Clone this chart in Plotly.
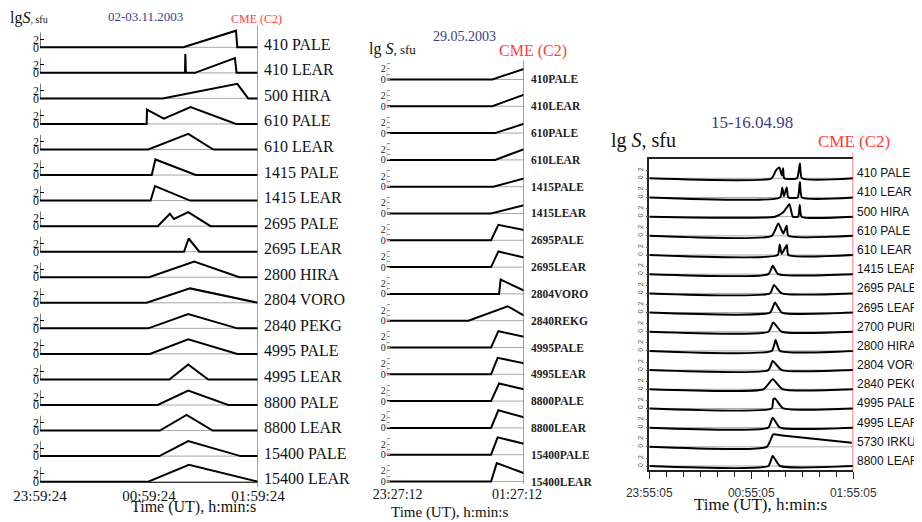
import plotly.graph_objects as go

W, H = 922, 522
PAGE_OFF = 8  # the page body margin moves the figure by 8 px
SERIF = "Liberation Serif"
SANS = "Liberation Sans"
RED = "#ff3c3c"
BLUE = "#3c3c8c"

# ---------------- data : panel 1 (02-03.11.2003), minutes after 23:59:24, lg S ----------------
p1_ticks = ["23:59:24", "00:59:24", "01:59:24"]
p1_labels = ["410 PALE", "410 LEAR", "500 HIRA", "610 PALE", "610 LEAR", "1415 PALE",
             "1415 LEAR", "2695 PALE", "2695 LEAR", "2800 HIRA", "2804 VORO", "2840 PEKG",
             "4995 PALE", "4995 LEAR", "8800 PALE", "8800 LEAR", "15400 PALE", "15400 LEAR"]
p1_x = [
    [0, 78.9, 107.9, 108.6, 120],
    [0, 79.8, 80.0, 80.3, 85.3, 107.3, 108.2, 120],
    [0, 67.5, 108.6, 114.6, 120],
    [0, 58.7, 58.9, 68.2, 82.9, 107.9, 120],
    [0, 59.6, 81.6, 95.4, 120],
    [0, 61.5, 63.5, 85.7, 120],
    [0, 60.9, 63.3, 82.6, 120],
    [0, 64.8, 71.5, 73.7, 81.6, 93.9, 120],
    [0, 79.3, 81.8, 87.7, 120],
    [0, 60.0, 84.9, 109.7, 120],
    [0, 58.7, 82.6, 119.3, 120],
    [0, 59.6, 81.6, 108.6, 120],
    [0, 60.5, 81.6, 108.6, 120],
    [0, 71.2, 81.6, 92.6, 120],
    [0, 64.8, 81.6, 103.6, 120],
    [0, 66.0, 80.7, 95.0, 120],
    [0, 65.7, 81.6, 110.4, 120],
    [0, 59.6, 82.0, 119.6, 120],
]
p1_y = [
    [0, 0, 4.15, 0, 0],
    [0, 0, 4.7, 0, 0, 3.7, 0, 0],
    [0, 0, 3.65, 0, 0],
    [0, 0, 3.6, 1.35, 4.2, 0, 0],
    [0, 0, 3.9, 0, 0],
    [0, 0, 3.9, 0, 0],
    [0, 0, 3.65, 0, 0],
    [0, 0, 3.1, 1.8, 3.5, 0, 0],
    [0, 0, 3.3, 0, 0],
    [0, 0, 3.9, 0, 0],
    [0, 0, 3.6, 0, 0],
    [0, 0, 3.6, 0, 0],
    [0, 0, 3.65, 0, 0],
    [0, 0, 3.75, 0, 0],
    [0, 0, 3.6, 0, 0],
    [0, 0, 3.9, 0, 0],
    [0, 0, 3.75, 0, 0],
    [0, 0, 4.2, 0, 0],
]

# ---------------- data : panel 2 (29.05.2003), minutes after 23:27:12 ----------------
p2_ticks = ["23:27:12", "01:27:12"]
p2_labels = ["410PALE", "410LEAR", "610PALE", "610LEAR", "1415PALE", "1415LEAR", "2695PALE",
             "2695LEAR", "2804VORO", "2840REKG", "4995PALE", "4995LEAR", "8800PALE",
             "8800LEAR", "15400PALE", "15400LEAR"]
p2_x = [
    [0, 92.3, 120], [0, 92.3, 120], [0, 94.7, 120], [0, 94.7, 120],
    [0, 93.2, 120], [0, 91.2, 120],
    [0, 91.2, 97.6, 120], [0, 91.2, 97.6, 120], [0, 98.2, 99.6, 120],
    [0, 71.4, 105.8, 120], [0, 91.2, 97.6, 120], [0, 91.2, 97.0, 120],
    [0, 91.2, 98.2, 120], [0, 91.2, 97.6, 120], [0, 91.2, 97.0, 120],
    [0, 91.2, 96.2, 120],
]
p2_y = [
    [0, 0, 2.0], [0, 0, 2.2], [0, 0, 1.75], [0, 0, 2.0],
    [0, 0, 1.56], [0, 0, 1.56],
    [0, 0, 2.9, 1.94], [0, 0, 2.94, 1.8], [0, 0, 2.7, 0.6],
    [0, 0, 2.7, 0.94], [0, 0, 3.06, 2.0], [0, 0, 3.1, 2.06],
    [0, 0, 3.3, 2.2], [0, 0, 3.3, 2.0], [0, 0, 3.25, 2.06],
    [0, 0, 3.44, 1.56],
]

# ---------------- data : panel 3 (15-16.04.98), minutes after 23:55:05 ----------------
p3_ticks = ["23:55:05", "00:55:05", "01:55:05"]
p3_labels = ["410 PALE", "410 LEAR", "500 HIRA", "610 PALE", "610 LEAR", "1415 LEAR",
             "2695 PALE", "2695 LEAR", "2700 PURP", "2800 HIRA", "2804 VORO", "2840 PEKG",
             "4995 PALE", "4995 LEAR", "5730 IRKU", "8800 LEAR"]
p3_x = [
    [0, 72, 74.5, 76.5, 78.0, 78.7, 79.4, 86.9, 88.6, 89.8, 120],
    [0, 76.9, 78.2, 79.2, 80.8, 81.8, 87.3, 88.6, 89.8, 120],
    [0, 73.9, 78.8, 82.4, 84.4, 87.6, 88.5, 89.6, 120],
    [0, 72, 75.9, 78.8, 80.8, 81.8, 120],
    [0, 75.5, 76.7, 77.9, 80.9, 81.8, 120],
    [0, 70, 72.6, 75.9, 120],
    [0, 71, 73.3, 77.9, 120],
    [0, 71, 73.9, 77.9, 120],
    [0, 70, 72.9, 77.9, 120],
    [0, 72, 74.3, 76.9, 120],
    [0, 70, 72.6, 77.9, 120],
    [0, 67.1, 72.6, 78.4, 120],
    [0, 72, 72.9, 73.9, 78.8, 120],
    [0, 70, 72.6, 76.9, 120],
    [0, 69.1, 72.9, 76.9, 119.1],
    [0, 70, 72.6, 76.9, 120],
]
p3_y = [
    [0, 0, 2.0, 2.7, 0.7, 2.5, 0, 0, 3.7, 0, 0],
    [0, 0, 2.5, 0.3, 2.5, 0, 0, 3.9, 0, 0],
    [0, 0, 1.1, 3.1, 0, 0, 2.9, 0, 0],
    [0, 0, 3.1, 0.6, 2.5, 0, 0],
    [0, 0, 2.6, 0.3, 2.5, 0, 0],
    [0, 0, 2.1, 0, 0],
    [0, 0, 2.1, 0, 0],
    [0, 0, 2.5, 0, 0],
    [0, 0, 2.3, 0, 0],
    [0, 0, 2.7, 0, 0],
    [0, 0, 2.25, 0, 0],
    [0, 0, 2.5, 0, 0],
    [0, 0, 2.25, 2.5, 0, 0],
    [0, 0, 2.5, 0, 0],
    [0, 0, 3.1, 2.9, 1.0],
    [0, 0, 2.5, 0, 0],
]


def fx(px):
    return (px - PAGE_OFF) / W


def fy(py):
    return 1 - (py - PAGE_OFF) / H


# geometry of each panel (pixels in the photographed page)
geo = {
    1: dict(x0=40, x1=258, top=25, bottom=482, base0=47.3, step=25.55, ppu=4.0),
    2: dict(x0=386.7, x1=524, top=60, bottom=484, base0=79.5, step=26.8, ppu=5.33),
    3: dict(x0=649.3, x1=853.3, top=159, bottom=470, base0=178.3, step=19.18, ppu=4.0),
}

fig = go.Figure()
shapes = []
annotations = []


def panel(n, labels, xs, ys, xa, ya, line_w, spline=False):
    g = geo[n]
    step_u = g["step"] / g["ppu"]
    offs = [-i * step_u for i in range(len(labels))]
    yr = [-(g["bottom"] - g["base0"]) / g["ppu"], (g["base0"] - g["top"]) / g["ppu"]]
    for i, lab in enumerate(labels):
        off = offs[i]
        shapes.append(dict(type="line", xref=xa, yref=ya, x0=0, x1=120, y0=off, y1=off,
                           line=dict(color="#a8a8a8", width=1), layer="below"))
        fig.add_trace(go.Scatter(
            x=xs[i], y=[v + off for v in ys[i]], mode="lines",
            line=dict(color="black", width=line_w,
                      shape="spline" if spline else "linear", smoothing=0.5),
            xaxis=xa, yaxis=ya, showlegend=False, hoverinfo="skip", cliponaxis=False))
    return offs, yr


# ---------- panel 1 ----------
offs1, yr1 = panel(1, p1_labels, p1_x, p1_y, "x", "y", 2)
for off in offs1:
    shapes.append(dict(type="line", xref="x", yref="y", x0=0, x1=0, y0=off, y1=off + 3.7,
                       line=dict(color="black", width=1)))
for lab, off in zip(p1_labels, offs1):
    annotations.append(dict(text=lab, xref="x", yref="y", x=120, y=off + 0.75, xanchor="left",
                            yanchor="middle", xshift=4, showarrow=False,
                            font=dict(family=SERIF, size=16, color="#111")))

# ---------- panel 2 ----------
offs2, yr2 = panel(2, p2_labels, p2_x, p2_y, "x2", "y2", 2)
for off in offs2:
    shapes.append(dict(type="line", xref="x2", yref="y2", x0=0, x1=0, y0=off, y1=off + 3,
                       line=dict(color="#999", width=1)))
for lab, off in zip(p2_labels, offs2):
    annotations.append(dict(text="<b>" + lab + "</b>", xref="x2", yref="y2", x=120, y=off,
                            xanchor="left", yanchor="middle", xshift=5, showarrow=False,
                            font=dict(family=SERIF, size=11.5, color="#222")))
fig.add_trace(go.Scatter(x=[0], y=[0], mode="markers", marker=dict(opacity=0),
                         xaxis="x3", yaxis="y2", showlegend=False, hoverinfo="skip"))

# ---------- panel 3 ----------
offs3, yr3 = panel(3, p3_labels, p3_x, p3_y, "x4", "y3", 2, spline=True)
for lab, off in zip(p3_labels, offs3):
    annotations.append(dict(text=lab, xref="x4", yref="y3", x=120, y=off + 1.25,
                            xanchor="left", yanchor="middle", xshift=2, showarrow=False,
                            font=dict(family=SANS, size=12, color="#111")))

# red CME lines
for xa, top, bot in (("x", 25, 487), ("x2", 60, 484), ("x4", 153, 470)):
    shapes.append(dict(type="line", xref=xa, yref="paper", x0=120, x1=120,
                       y0=fy(bot), y1=fy(top), line=dict(color="#ff4d4d", width=1.5)))


def txt(text, x, y, size, color="#111", family=SERIF, xanchor="center"):
    annotations.append(dict(text=text, xref="paper", yref="paper", x=fx(x), y=fy(y),
                            xanchor=xanchor, yanchor="middle", showarrow=False,
                            font=dict(family=family, size=size, color=color)))


# headers
txt("lg<i>S</i><span style='font-size:10px'>, sfu</span>", 8, 18, 16, xanchor="left")
txt("02-03.11.2003", 145, 16, 13, BLUE)
txt("CME (C2)", 257, 19, 12, RED)
txt("lg <i>S</i><span style='font-size:13px'>, sfu</span>", 367, 49, 16, xanchor="left")
txt("29.05.2003", 464, 36, 14, BLUE)
txt("CME (C2)", 533, 51, 16, RED)
txt("lg <i>S</i>, sfu", 609, 140, 20, xanchor="left")
txt("15-16.04.98", 752, 122, 17, BLUE)
txt("CME (C2)", 854, 142, 17, RED)
# axis titles
txt("Time (UT), h:min:s", 193, 507, 16)
txt("Time (UT), h:min:s", 450, 512, 15)
txt("Time (UT), h:min:s", 760, 504, 17)


def xdom(n):
    return [fx(geo[n]["x0"]), fx(geo[n]["x1"])]


def ydom(n):
    return [fy(geo[n]["bottom"]), fy(geo[n]["top"])]


base_ax = dict(showgrid=False, zeroline=False, range=[0, 120], automargin=False)

fig.update_layout(
    template="none",
    width=W, height=H, margin=dict(l=0, r=0, t=0, b=0, autoexpand=False),
    paper_bgcolor="white", plot_bgcolor="rgba(0,0,0,0)",
    shapes=shapes, annotations=annotations,
    xaxis=dict(base_ax, domain=xdom(1), anchor="y", tickvals=[0, 60, 120], ticktext=p1_ticks,
               ticks="", showline=True, linecolor="#333", linewidth=1,
               tickfont=dict(family=SERIF, size=15, color="#111")),
    yaxis=dict(showgrid=False, zeroline=False, automargin=False, domain=ydom(1), anchor="x",
               range=yr1,
               tickvals=[o + d for o in offs1 for d in (0, 2)],
               ticktext=[t for _ in offs1 for t in ("0", "2")],
               ticks="inside", ticklen=4, tickcolor="black", showline=False,
               tickfont=dict(family=SERIF, size=12, color="#111")),
    xaxis2=dict(base_ax, domain=xdom(2), anchor="y2", tickvals=[0], ticktext=p2_ticks[:1],
                ticks="", showline=False, ticklabelshift=11,
                tickfont=dict(family=SERIF, size=14, color="#111")),
    xaxis3=dict(base_ax, domain=xdom(2), anchor="y2", overlaying="x2", side="bottom",
                tickvals=[120], ticktext=p2_ticks[1:], ticks="", showline=False,
                ticklabelshift=-7, tickfont=dict(family=SERIF, size=14, color="#111")),
    yaxis2=dict(showgrid=False, zeroline=False, automargin=False, domain=ydom(2), anchor="x2",
                range=yr2,
                tickvals=[o + d for o in offs2 for d in (0, 1, 2, 3)],
                ticktext=[t for _ in offs2 for t in ("0", "", "2", "")],
                ticks="inside", ticklen=3, tickcolor="#999", showline=False,
                tickfont=dict(family=SERIF, size=10, color="#222")),
    xaxis4=dict(base_ax, domain=xdom(3), anchor="y3", tickvals=[0, 60, 120], ticktext=p3_ticks,
                ticks="outside", ticklen=7, tickcolor="#222", showline=True, linecolor="#222",
                linewidth=1.5, mirror=True, ticklabelstandoff=4,
                minor=dict(dtick=10, ticks="outside", ticklen=5, tickcolor="#222"),
                tickfont=dict(family=SANS, size=12, color="#333")),
    yaxis3=dict(showgrid=False, zeroline=False, automargin=False, domain=ydom(3), anchor="x4",
                range=yr3,
                tickvals=[o + d for o in offs3 for d in (0, 2)],
                ticktext=[t for _ in offs3 for t in ("0", "2")],
                ticks="outside", ticklen=2, tickcolor="#555", showline=True, linecolor="#222",
                linewidth=1.5, tickangle=-90,
                tickfont=dict(family=SANS, size=7, color="#555")),
)

fig.write_html("out.html")
